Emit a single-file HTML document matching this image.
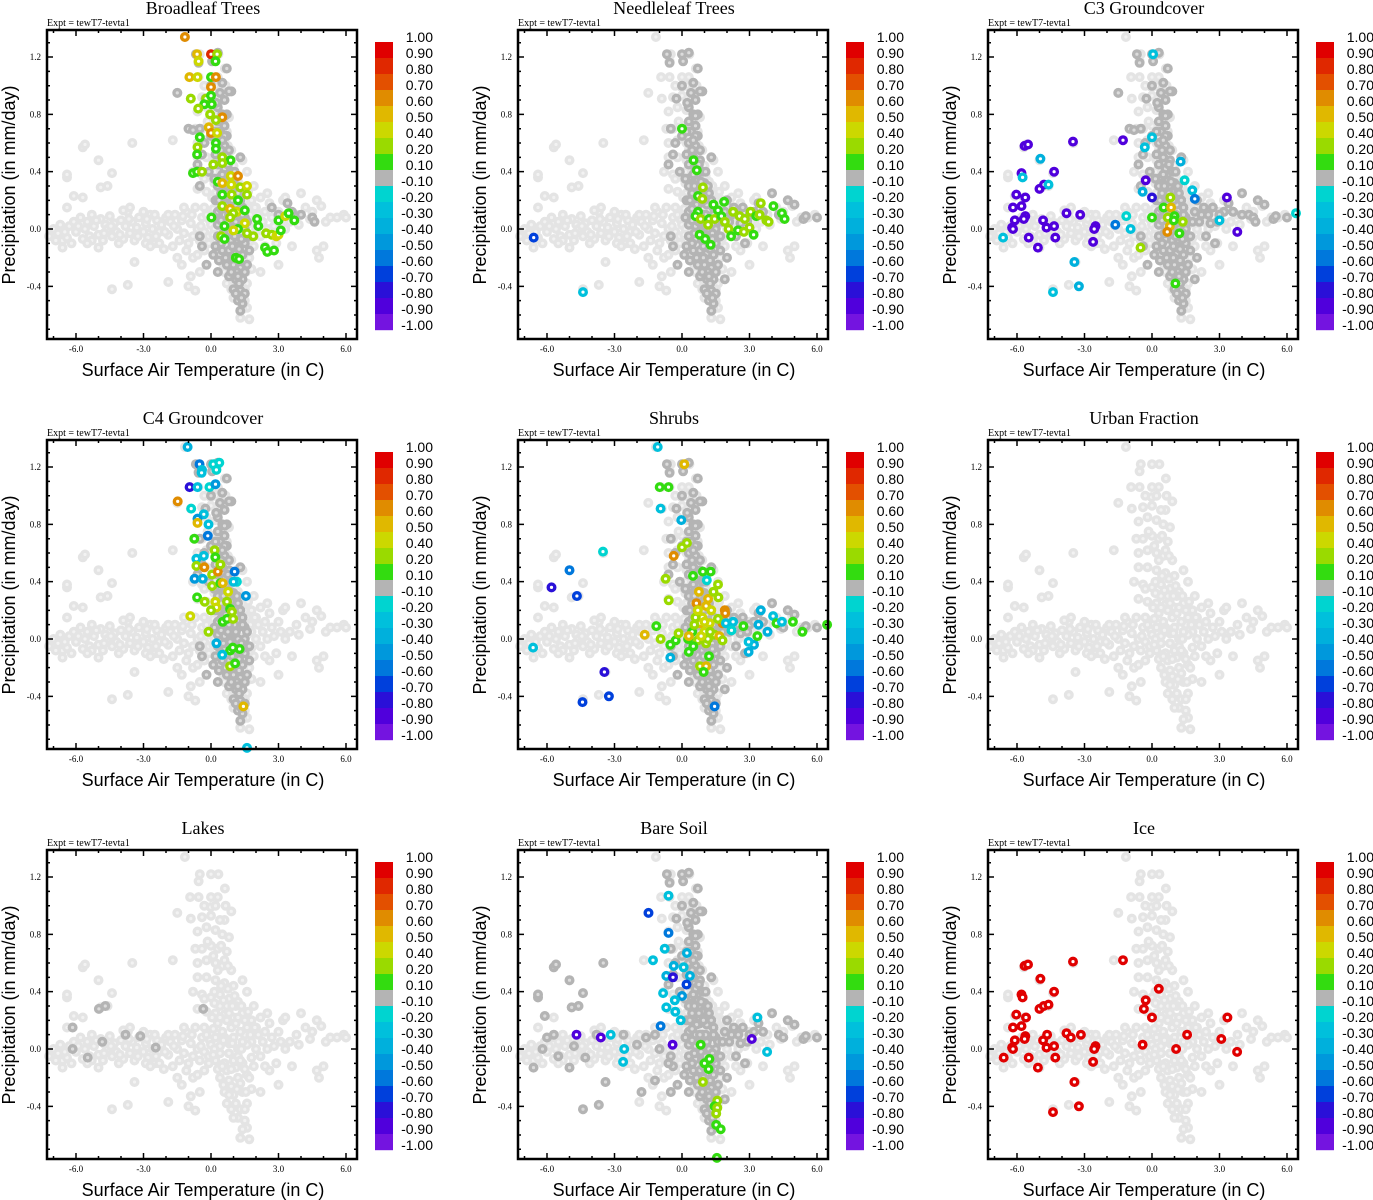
<!DOCTYPE html>
<html><head><meta charset="utf-8"><title>Correlation scatter panels</title>
<style>
html,body{margin:0;padding:0;background:#fff;}
svg{display:block;}
.ttl{font-family:"Liberation Serif",serif;font-size:18px;fill:#000;}
.expt{font-family:"Liberation Serif",serif;font-size:10px;fill:#000;}
.tick{font-family:"Liberation Serif",serif;font-size:9px;fill:#000;}
.axt{font-family:"Liberation Sans",sans-serif;font-size:18px;fill:#000;}
.cbl{font-family:"Liberation Sans",sans-serif;font-size:14px;fill:#000;}
</style></head>
<body>
<svg id="fig" width="1373" height="1200" viewBox="0 0 1373 1200" xmlns="http://www.w3.org/2000/svg"></svg>
<script>
// ---- data ----
const xTicks=[-6,-3,0,3,6];
const xTickLabels=['-6.0','-3.0','0.0','3.0','6.0'];
const yTicks=[-0.4,0,0.4,0.8,1.2];
const yTickLabels=['-0.4','0.0','0.4','0.8','1.2'];
const cbLabels=['1.00','0.90','0.80','0.70','0.60','0.50','0.40','0.20','0.10','-0.10','-0.20','-0.30','-0.40','-0.50','-0.60','-0.70','-0.80','-0.90','-1.00'];
const cbEdges=[1.0,0.9,0.8,0.7,0.6,0.5,0.4,0.2,0.1,-0.1,-0.2,-0.3,-0.4,-0.5,-0.6,-0.7,-0.8,-0.9,-1.0];
const cbColors=['#e00000','#e02800','#e35000','#e08c00','#e0b800','#ccd800','#9ada00','#33dc10','#b4b4b4','#00d4d0','#00c0dc','#00b0dc','#0098dc','#0078dc','#0040dc','#2a10d8','#5000dc','#7414e0'];
const titles=['Broadleaf Trees','Needleleaf Trees','C3 Groundcover','C4 Groundcover','Shrubs','Urban Fraction','Lakes','Bare Soil','Ice'];

// all grid cells (light gray, not significant)
const cloudPts=[[-7.2,-0.05],[-7.0,0.0],[-6.8,-0.03],[-6.6,-0.08],[-6.4,-0.06],[-6.3,0.02],[-6.1,0.05],[-6.0,-0.02],[-5.8,0.08],[-5.7,-0.07],[-5.6,0.0],[-5.5,0.05],[-5.4,-0.05],[-5.3,0.1],[-5.2,0.02],[-5.0,-0.04],[-4.9,0.07],[-4.8,-0.08],[-4.7,0.03],[-4.6,0.0],[-4.5,0.09],[-4.4,-0.05],[-4.3,0.04],[-4.2,-0.02],[-4.0,0.06],[-3.9,-0.07],[-3.8,0.02],[-3.7,0.12],[-3.6,-0.03],[-3.5,0.05],[-3.4,-0.08],[-3.3,0.01],[-3.2,0.08],[-3.0,-0.02],[-2.9,0.04],[-2.8,-0.06],[-2.7,0.1],[-2.6,0.0],[-2.5,-0.1],[-2.4,0.06],[-2.3,-0.02],[-2.2,0.03],[-2.1,-0.14],[-2.0,0.08],[-1.9,-0.04],[-1.8,0.05],[-1.7,-0.12],[-1.6,0.1],[-1.5,0.0],[-1.4,-0.08],[-1.3,0.06],[-1.2,-0.03],[-1.1,0.12],[-1.0,-0.1],[-0.9,0.04],[-0.8,-0.05],[-0.7,0.15],[-0.6,0.0],[-0.5,-0.08],[-0.4,0.08],[-0.3,-0.02],[-0.2,0.1],[-0.1,-0.05],
[-6.4,0.15],[-6.1,0.23],[-5.7,0.22],[-6.4,0.36],[-6.4,0.38],[-5.7,0.57],[-5.6,0.59],[-4.9,0.29],[-4.6,0.3],[-5.0,0.48],[-4.4,0.39],[-3.5,0.6],[-1.7,0.62],[-6.6,-0.13],[-5.0,-0.13],[-3.4,-0.23],[-4.4,-0.42],[-3.7,-0.39],[-1.9,-0.37],[-1.0,-0.4],[-0.7,-0.43],[-1.5,-0.2],[-1.3,-0.25],[-0.9,-0.33],[-0.5,-0.3],[-3.0,0.12],[-3.9,0.13],[-2.5,0.1],[-1.9,0.1],[-1.2,0.15],[-6.9,-0.08],[-6.2,-0.1],[-5.3,-0.08],[-4.1,-0.1],[-2.9,-0.1],[-2.3,-0.1],[-0.8,-0.2],[-0.3,-0.15],
[-6.7,0.03],[-6.5,-0.02],[-5.9,0.02],[-5.5,-0.1],[-5.1,0.06],[-4.75,-0.03],[-4.45,0.02],[-4.05,-0.04],[-3.65,0.07],[-3.25,-0.05],[-2.85,0.07],[-2.45,-0.05],[-2.05,-0.02],[-1.65,0.02],[-1.25,0.09],[-0.85,0.1],[-0.45,0.02],[-0.05,0.06],[-1.1,-0.15],[-0.6,-0.18],[-2.7,-0.12],[-3.6,0.15],
[1.5,0.1],[1.8,0.05],[2.0,0.15],[2.2,-0.05],[2.4,0.12],[2.5,0.0],[2.7,0.08],[2.9,-0.1],[3.0,0.12],[3.2,0.2],[3.3,0.22],[3.5,0.05],[3.8,0.1],[4.0,0.25],[4.2,0.15],[4.5,0.12],[4.7,0.2],[4.9,0.16],[5.1,0.05],[5.3,0.08],[5.6,0.08],[5.9,0.1],[6.0,0.08],[4.7,-0.15],[4.8,-0.2],[5.0,-0.12],[3.6,-0.12],[3.0,-0.25],[2.2,-0.3],[2.6,-0.15],[2.0,0.0],[2.3,0.05],[2.8,0.02],[3.3,0.0],[1.9,-0.12],[2.1,0.1],[2.6,0.18],[3.1,0.05],[3.9,0.03],[4.4,0.07],[2.4,-0.12],
[-1.16,1.34],[-0.5,1.22],[-0.55,1.17],[0.0,1.22],[0.33,1.22],[0.62,1.12],[-0.93,1.06],[-0.55,1.06],[0.0,1.06],[0.3,1.06],[-0.02,0.99],[0.65,1.0],[0.9,0.96],[-1.5,0.95],[-0.9,0.91],[-0.4,0.92],[0.0,0.93],[0.6,0.9],[-0.6,0.82],[-0.2,0.85],[0.2,0.83],[0.5,0.8],[0.8,0.78],[-0.7,0.7],[-0.4,0.7],[0.0,0.72],[0.3,0.7],[0.7,0.68],[-0.6,0.6],[-0.2,0.62],[0.2,0.6],[0.5,0.58],[0.9,0.55],[-0.6,0.5],[-0.2,0.5],[0.2,0.48],[0.6,0.46],[1.0,0.44],[1.4,0.48],[-0.8,0.4],[-0.4,0.38],[0.0,0.36],[0.4,0.38],[0.8,0.35],[1.2,0.33],[-0.6,0.28],[-0.2,0.26],[0.2,0.25],[0.6,0.24],[1.0,0.22],[1.4,0.25],[1.8,0.2],[-0.3,0.15],[0.1,0.14],[0.5,0.12],[0.9,0.15],[1.3,0.12],[0.0,0.03],[0.4,0.02],[0.8,0.04],[1.2,0.0],[1.6,0.03],[0.2,-0.08],[0.6,-0.1],[1.0,-0.08],[1.4,-0.1],[1.8,-0.06],[0.4,-0.2],[0.8,-0.22],[1.2,-0.2],[1.6,-0.18],[0.6,-0.3],[1.0,-0.32],[1.4,-0.3],[1.8,-0.28],[0.9,-0.42],[1.3,-0.42],[1.6,-0.38],[1.2,-0.48],[1.5,-0.5],[1.6,-0.55],[1.3,-0.62],[1.7,-0.63],
[0.3,0.55],[0.6,0.62],[0.4,0.3],[0.7,0.3],[1.1,0.3],[0.3,0.18],[0.7,0.2],[1.1,0.18],[1.6,0.15],[0.2,0.08],[0.6,0.08],[1.0,0.08],[1.4,0.05],[0.4,-0.03],[0.8,-0.03],[1.2,-0.05],[0.3,-0.14],[0.7,-0.15],[1.1,-0.13],[1.5,-0.14],[0.9,-0.26],[1.3,-0.24],[0.7,-0.38],[1.1,-0.38],[1.5,-0.42],
[0.15,0.4],[0.45,0.44],[0.75,0.42],[1.05,0.37],[0.15,0.32],[0.55,0.34],[0.95,0.3],[1.35,0.3],[1.65,0.26],[0.05,0.22],[0.4,0.22],[0.8,0.25],[1.2,0.22],[1.5,0.2],[1.95,0.15],[0.15,0.0],[0.55,0.06],[0.95,0.04],[1.35,0.0],[1.75,0.1],[0.1,-0.04],[0.5,-0.12],[0.9,-0.14],[1.3,-0.08],[1.7,-0.2],[0.55,-0.25],[1.15,-0.28],[1.55,-0.3],[0.8,-0.32],[1.0,-0.48],[1.4,-0.56],[-0.1,-0.1],[-0.3,0.35],[0.1,0.65],[0.4,0.9],[0.2,1.0],[-0.3,1.0],[0.45,0.72],[0.75,0.58],[-0.15,0.75],[1.6,0.4],[1.9,0.3],[2.2,0.22],[2.5,0.25]];

// |r|<0.1 cells shown dark gray
const darkCore=[[0.0,1.0],[0.7,1.12],[0.9,0.96],[0.6,0.9],[0.3,0.85],[0.5,0.8],[0.7,0.8],[0.3,0.75],[0.6,0.72],[0.4,0.68],[0.7,0.65],[-0.3,0.6],[0.3,0.6],[0.6,0.58],[0.8,0.55],[-0.4,0.52],[0.2,0.52],[0.5,0.5],[0.8,0.48],[1.3,0.5],[-0.6,0.45],[0.3,0.45],[0.6,0.42],[0.9,0.4],[-0.1,0.4],[0.4,0.36],[0.7,0.34],[1.0,0.32],[0.3,0.3],[0.6,0.27],[0.9,0.26],[1.2,0.25],[0.2,0.2],[0.5,0.2],[0.8,0.18],[1.1,0.17],[1.4,0.15],[0.3,0.12],[0.6,0.1],[0.9,0.1],[1.2,0.08],[1.5,0.08],[0.3,0.03],[0.6,0.02],[0.9,0.0],[1.2,0.0],[1.5,0.0],[-0.5,-0.05],[0.3,-0.05],[0.6,-0.07],[0.9,-0.08],[1.2,-0.08],[1.5,-0.1],[0.5,-0.15],[0.8,-0.15],[1.1,-0.17],[1.4,-0.18],[1.7,-0.15],[0.7,-0.25],[1.0,-0.25],[1.3,-0.27],[1.6,-0.25],[0.8,-0.33],[1.1,-0.35],[1.4,-0.35],[1.0,-0.42],[1.3,-0.43],[1.5,-0.45],[1.2,-0.5],[1.4,-0.52],[-0.4,-0.12],[0.1,-0.18],[-0.2,-0.25],[0.3,-0.3],
[-0.67,1.22],[0.0,1.22],[0.3,1.23],[-0.55,1.16],[0.05,1.17],[0.5,1.02],[0.8,0.96],[-0.25,0.91],[0.23,0.88],[0.6,0.79],[-0.5,0.7],[0.0,0.65],[0.6,0.65],[0.45,0.55],[0.75,0.45],[1.05,0.4],[0.45,0.25],[0.75,0.25],[1.05,0.1],[0.45,0.06],[0.75,0.05],[1.35,-0.03],[0.45,-0.1],[0.95,-0.12],[1.25,-0.14],[0.85,-0.2],[1.15,-0.3],[1.25,-0.38],
[0.15,0.35],[0.5,0.38],[0.85,0.33],[1.15,0.3],[0.35,0.2],[0.65,0.17],[0.95,0.2],[1.3,0.2],[0.15,0.08],[0.45,0.14],[0.8,0.1],[1.1,0.05],[1.4,0.1],[0.2,-0.12],[0.55,-0.03],[0.85,-0.02],[1.05,-0.05],[1.35,-0.07],[0.35,-0.22],[0.65,-0.2],[0.95,-0.2],[1.25,-0.22],[0.9,-0.3],[1.2,-0.33],[1.5,-0.3],[1.1,-0.45],[1.35,-0.48],[1.3,-0.57],[0.5,0.62],[0.2,0.68],[0.4,0.95],[0.55,0.3],[1.6,0.05],[1.7,-0.05]];
const darkRight=[[2.0,0.2],[2.3,0.15],[2.5,0.1],[2.7,0.15],[3.0,0.1],[3.2,0.12],[3.4,0.18],[3.6,0.12],[4.0,0.25],[4.3,0.1],[4.5,0.08],[4.7,0.2],[5.0,0.17],[5.4,0.07],[5.5,0.09],[6.0,0.08],[2.4,-0.05],[2.8,-0.1],[2.0,-0.2],[1.9,-0.35],[1.8,0.05],[2.1,0.05],[2.2,0.1],[2.6,0.04],[2.9,0.05],[1.9,0.12]];
const darkLeft=[[-6.1,0.23],[-6.4,0.36],[-6.4,0.38],[-5.7,0.57],[-5.6,0.59],[-4.9,0.29],[-4.6,0.3],[-5.0,0.48],[-4.4,0.39],[-3.5,0.6],[-6.6,-0.13],[-5.5,-0.05],[-5.0,-0.13],[-3.4,-0.23],[-4.4,-0.42],[-3.7,-0.39],[-4.3,-0.06],[-6.2,0.0],[-6.0,0.08],[-5.7,0.1],[-4.8,0.02],[-3.8,0.1],[-2.6,0.1],[-2.0,0.03],[-1.6,0.08],[-1.2,0.1],[-1.8,-0.3],[-1.0,0.0],[-0.6,-0.1],[-0.5,-0.3],[-1.2,-0.22]];
const darkLakes=[[-6.15,0.15],[-6.15,0.0],[-5.48,-0.06],[-4.98,0.28],[-4.7,0.3],[-4.83,0.05],[-3.8,0.1],[-3.14,0.09],[-2.46,0.01],[-0.34,0.28]];
const darkExtra1=[[2.7,0.15],[3.0,0.1],[3.4,0.18],[3.6,0.12],[4.0,0.1],[4.5,0.08],[4.6,0.05],[-1.0,0.7],[-0.8,0.69],[-0.5,0.3],[-1.5,0.95]];

// correlation-coloured cells [x, y, r]
const broadleaf=[[-1.16,1.34,0.65],[0.0,1.22,0.85],[0.27,1.22,0.3],[-0.62,1.22,0.55],[-0.55,1.17,0.45],[0.2,1.17,0.15],[-0.96,1.06,0.55],[-0.6,1.06,0.45],[0.0,1.06,0.15],[0.22,1.06,0.65],[0.0,0.99,0.65],[-0.9,0.91,0.3],[-0.22,0.91,0.3],[0.0,0.93,0.15],[-0.3,0.87,0.15],[-0.57,0.84,0.3],[0.03,0.87,0.15],[-0.04,0.8,0.3],[0.5,0.78,0.65],[0.22,0.76,0.3],[-0.1,0.71,0.55],[0.0,0.67,0.65],[0.27,0.67,0.45],[-0.5,0.64,0.15],[0.22,0.6,0.15],[-0.6,0.57,0.3],[0.22,0.56,0.15],[-0.62,0.52,0.15],[0.5,0.5,0.3],[0.1,0.45,0.3],[0.87,0.48,0.15],[-0.8,0.39,0.15],[-0.62,0.4,0.15],[-0.4,0.4,0.3],[0.5,0.46,0.3],[0.88,0.37,0.45],[1.2,0.37,0.65],[0.3,0.33,0.15],[0.5,0.32,0.55],[0.9,0.31,0.45],[1.3,0.29,0.3],[1.6,0.3,0.45],[0.5,0.24,0.15],[0.92,0.24,0.3],[1.2,0.2,0.15],[1.6,0.24,0.3],[0.5,0.16,0.3],[0.85,0.14,0.55],[1.15,0.12,0.45],[0.99,0.11,0.3],[1.5,0.13,0.15],[0.02,0.08,0.15],[0.85,0.08,0.3],[1.5,0.04,0.45],[2.05,0.07,0.15],[3.0,0.06,0.15],[3.3,0.09,0.45],[3.45,0.11,0.15],[3.7,0.06,0.15],[0.6,0.02,0.15],[1.2,0.0,0.15],[1.6,-0.03,0.3],[1.88,-0.05,0.3],[2.1,0.02,0.15],[2.45,-0.03,0.3],[2.7,-0.04,0.3],[2.9,-0.05,0.45],[3.0,-0.04,0.45],[3.1,-0.01,0.15],[0.45,-0.05,0.3],[0.6,-0.07,0.15],[1.1,-0.2,0.15],[1.25,-0.21,0.15],[2.4,-0.13,0.15],[2.5,-0.16,0.15],[2.8,-0.15,0.15],[1.0,-0.01,0.45]];
const needleleaf=[[0.0,0.7,0.15],[0.51,0.48,0.15],[0.66,0.41,0.15],[0.93,0.29,0.3],[0.71,0.23,0.15],[0.9,0.21,0.3],[1.4,0.17,0.15],[1.87,0.19,0.15],[1.6,0.13,0.15],[0.71,0.12,0.15],[0.6,0.09,0.15],[0.83,0.07,0.3],[1.2,0.07,0.15],[1.45,0.07,0.3],[1.75,0.09,0.15],[1.9,0.05,0.3],[2.27,0.12,0.3],[2.56,0.09,0.3],[2.79,0.07,0.3],[3.05,0.12,0.3],[3.5,0.18,0.3],[4.06,0.16,0.15],[4.44,0.11,0.15],[4.56,0.07,0.15],[3.3,0.09,0.15],[3.45,0.1,0.3],[3.75,0.06,0.3],[3.85,0.05,0.3],[1.16,0.03,0.3],[2.07,0.0,0.3],[2.49,-0.01,0.15],[2.75,-0.02,0.3],[3.0,0.01,0.3],[3.18,-0.04,0.15],[0.78,-0.04,0.15],[1.03,-0.07,0.15],[1.27,-0.11,0.15],[2.18,-0.05,0.15],[-6.59,-0.06,-0.65],[-4.4,-0.44,-0.25]];
const c3ground=[[-3.51,0.61,-0.85],[-1.29,0.62,-0.85],[-5.66,0.58,-0.85],[-5.51,0.59,-0.85],[-5.8,0.39,-0.85],[-4.35,0.4,-0.85],[-5.0,0.28,-0.85],[-4.8,0.31,-0.85],[-6.03,0.24,-0.85],[-5.63,0.22,-0.85],[-6.18,0.15,-0.85],[-5.8,0.16,-0.85],[-5.63,0.09,-0.85],[-6.1,0.06,-0.85],[-6.22,0.01,-0.85],[-6.18,0.0,-0.85],[-5.7,0.07,-0.85],[-4.84,0.06,-0.85],[-4.69,0.01,-0.85],[-4.35,0.02,-0.85],[-3.8,0.11,-0.85],[-3.19,0.1,-0.85],[-2.51,0.02,-0.85],[-2.57,0.0,-0.85],[-2.62,-0.09,-0.85],[-5.48,-0.06,-0.85],[-5.07,-0.13,-0.85],[-4.3,-0.06,-0.85],[-0.28,0.34,-0.85],[3.33,0.22,-0.85],[3.79,-0.02,-0.85],[0.0,0.22,-0.75],
[-4.96,0.49,-0.35],[-5.75,0.36,-0.25],[-4.6,0.31,-0.25],[-6.62,-0.06,-0.25],[-3.45,-0.23,-0.35],[-3.25,-0.4,-0.35],[-4.4,-0.44,-0.25],[-0.95,0.0,-0.25],[-1.14,0.09,-0.15],[-1.63,0.03,-0.55],[-0.32,0.57,-0.25],[0.0,0.64,-0.25],[1.27,0.47,-0.35],[1.45,0.34,-0.15],[1.79,0.27,-0.25],[-0.42,0.26,-0.35],[6.4,0.11,-0.15],[3.0,0.06,-0.25],[0.05,1.22,-0.25],[1.9,0.21,-0.55],
[0.82,0.22,0.3],[0.52,0.15,0.15],[0.85,0.15,0.55],[0.7,0.08,0.3],[1.0,0.09,0.15],[1.37,0.05,0.3],[0.79,0.02,0.55],[0.68,-0.02,0.65],[1.22,-0.03,0.15],[0.0,0.08,0.15],[-0.51,-0.13,0.3],[1.04,-0.38,0.15],[0.97,0.06,0.15]];
const c4ground=[[-1.04,1.34,-0.35],[-0.51,1.22,-0.55],[-0.4,1.18,-0.25],[-0.42,1.16,-0.25],[0.1,1.22,-0.15],[0.37,1.23,-0.15],[0.24,1.18,-0.15],[-0.95,1.06,-0.75],[-0.6,1.06,-0.25],[-0.07,1.06,-0.15],[0.2,1.08,-0.45],[-1.48,0.96,0.65],[-0.88,0.91,-0.15],[-0.32,0.87,-0.25],[-0.6,0.84,-0.45],[-0.6,0.81,0.55],[-0.11,0.8,-0.25],[-0.74,0.7,0.15],[-0.14,0.72,-0.55],[0.16,0.62,0.3],[-0.65,0.56,-0.25],[-0.32,0.58,-0.25],[0.19,0.57,0.15],[-0.65,0.51,0.3],[-0.3,0.5,0.65],[0.05,0.45,0.3],[0.3,0.47,0.65],[0.42,0.52,0.3],[1.05,0.47,-0.55],[-0.73,0.42,-0.45],[-0.37,0.42,-0.35],[0.05,0.37,0.3],[0.42,0.39,0.15],[0.52,0.39,0.55],[0.76,0.33,0.45],[1.15,0.4,-0.15],[1.55,0.3,-0.45],[-0.62,0.29,0.15],[-0.28,0.26,0.3],[0.19,0.26,0.45],[0.24,0.22,0.45],[0.71,0.26,0.3],[0.85,0.21,0.15],[0.93,0.19,0.3],[0.0,0.2,0.3],[-0.92,0.16,0.45],[0.52,0.12,0.15],[0.71,0.14,0.15],[0.98,0.14,0.3],[-0.11,0.05,0.3],[0.85,-0.08,0.15],[0.97,-0.06,0.15],[1.27,-0.07,0.15],[0.85,-0.19,0.3],[1.07,-0.17,0.15],[1.44,-0.47,0.55],[1.6,-0.76,-0.25],[0.24,-0.03,-0.35],[0.5,-0.11,-0.25],[1.0,0.4,-0.25]];
const shrubs=[[-1.08,1.34,-0.25],[0.1,1.22,0.55],[-0.99,1.06,0.15],[-0.6,1.06,0.15],[-0.95,0.91,-0.25],[-0.03,0.83,-0.35],[0.0,0.64,0.3],[0.22,0.67,0.3],[-0.37,0.58,0.65],[-3.51,0.61,-0.15],[-5.0,0.48,-0.55],[-5.8,0.36,-0.75],[-4.67,0.3,-0.65],[-0.73,0.42,0.3],[0.49,0.44,0.15],[0.93,0.47,0.15],[1.27,0.47,0.15],[-0.59,0.27,0.3],[0.64,0.25,0.65],[0.75,0.33,0.55],[1.16,0.28,0.55],[1.4,0.33,0.3],[1.62,0.29,0.3],[1.9,0.2,0.65],[1.92,0.18,0.65],[1.8,0.11,0.65],[0.8,0.11,0.55],[1.0,0.05,0.45],[1.23,0.11,0.45],[1.45,0.03,0.3],[1.6,0.14,0.3],[1.07,0.23,0.55],[0.45,0.05,0.15],[0.27,0.0,0.15],[0.3,0.02,0.55],[0.7,-0.01,0.3],[1.07,-0.03,0.3],[1.66,0.02,0.55],[1.8,-0.01,0.3],[-0.28,-0.01,0.15],[-0.52,-0.04,0.15],[-0.15,0.04,0.3],[-0.95,0.0,0.3],[-1.14,0.09,0.15],[-1.66,0.03,0.55],[-6.62,-0.06,-0.25],[-3.45,-0.23,-0.75],[-3.25,-0.4,-0.65],[-4.42,-0.44,-0.65],[-0.52,-0.13,-0.35],[0.3,-0.09,0.15],[0.8,-0.19,0.3],[1.07,-0.19,0.55],[1.2,-0.12,0.15],[0.96,-0.23,0.15],[1.45,-0.47,-0.55],[2.27,0.12,-0.25],[2.73,0.09,0.15],[2.96,-0.09,-0.35],[3.2,-0.04,-0.35],[3.35,0.02,0.15],[3.5,0.2,-0.35],[4.05,0.16,-0.25],[4.2,0.11,0.15],[4.44,0.12,-0.25],[4.93,0.12,0.15],[5.35,0.05,0.15],[6.45,0.1,0.15],[3.8,0.05,-0.35],[3.4,0.1,-0.35],[1.95,0.11,-0.25],[2.2,0.06,-0.15],[2.96,-0.02,-0.25],[1.1,0.41,-0.15],[1.6,0.38,0.3],[0.9,0.15,0.45],[1.3,0.2,0.45],[0.6,0.15,0.3],[1.15,0.0,0.3],[0.5,-0.05,0.15],[0.7,0.2,0.45],[1.0,0.12,0.5],[0.85,0.02,0.45],[1.25,0.05,0.3],[0.55,0.1,0.3]];
const baresoil=[[-0.6,1.07,-0.25],[-1.49,0.95,-0.65],[-0.6,0.81,-0.55],[-0.77,0.7,-0.25],[-1.29,0.62,-0.25],[-0.37,0.58,-0.35],[-0.7,0.51,-0.35],[-0.4,0.5,-0.75],[0.22,0.67,-0.35],[0.07,0.57,-0.25],[0.35,0.51,-0.35],[0.2,0.45,-0.65],[-0.84,0.39,-0.25],[0.0,0.37,-0.45],[-0.32,0.34,-0.25],[-0.7,0.29,-0.25],[-0.3,0.26,-0.25],[-0.06,0.2,-0.25],[-0.95,0.16,-0.55],[-4.69,0.1,-0.85],[-3.61,0.08,-0.85],[-3.17,0.1,-0.25],[-2.57,0.0,-0.25],[-2.62,-0.09,-0.25],[-0.42,0.03,-0.85],[3.35,0.22,-0.25],[3.1,0.07,-0.85],[3.78,-0.02,-0.25],[0.83,0.03,0.15],[1.0,-0.1,0.15],[1.22,-0.07,0.15],[1.18,-0.14,0.15],[0.93,-0.23,0.3],[1.57,-0.36,0.3],[1.45,-0.4,0.15],[1.57,-0.41,0.3],[1.52,-0.45,0.3],[1.52,-0.53,0.15],[1.72,-0.56,0.15],[1.55,-0.76,0.15]];
const ice=[[-3.51,0.61,0.95],[-1.29,0.62,0.95],[-5.66,0.58,0.95],[-5.51,0.59,0.95],[-4.96,0.49,0.95],[-5.8,0.38,0.95],[-5.75,0.36,0.95],[-4.35,0.4,0.95],[-5.0,0.28,0.95],[-4.81,0.3,0.95],[-4.6,0.31,0.95],[-6.03,0.24,0.95],[-5.6,0.22,0.95],[-6.18,0.15,0.95],[-5.8,0.16,0.95],[-5.63,0.09,0.95],[-5.66,0.07,0.95],[-6.1,0.06,0.95],[-6.22,0.01,0.95],[-6.18,0.0,0.95],[-4.84,0.06,0.95],[-4.66,0.1,0.95],[-4.69,0.01,0.95],[-4.35,0.02,0.95],[-3.8,0.11,0.95],[-3.61,0.08,0.95],[-3.16,0.1,0.95],[-2.51,0.02,0.95],[-2.57,0.0,0.95],[-2.62,-0.09,0.95],[-6.59,-0.06,0.95],[-5.48,-0.06,0.95],[-5.07,-0.13,0.95],[-4.3,-0.06,0.95],[-3.45,-0.23,0.95],[-3.25,-0.4,0.95],[-4.4,-0.44,0.95],[0.3,0.42,0.95],[-0.28,0.34,0.95],[-0.36,0.28,0.95],[0.0,0.22,0.95],[-0.42,0.03,0.95],[1.56,0.1,0.95],[1.07,0.0,0.95],[3.08,0.07,0.95],[3.35,0.22,0.95],[3.78,-0.02,0.95]];
const empty=[];

const panelDark=[[darkCore,darkExtra1],[darkCore,darkRight],[darkCore,darkRight,darkExtra1],[darkCore],[darkCore,darkRight],[],[darkLakes],[darkCore,darkRight,darkLeft],[]];
const panelColored=[broadleaf,needleleaf,c3ground,c4ground,shrubs,empty,empty,baresoil,ice];
const slugs=['broadleaf-trees','needleleaf-trees','c3-groundcover','c4-groundcover','shrubs','urban-fraction','lakes','bare-soil','ice'];

// ---- drawing ----
const NS='http://www.w3.org/2000/svg';
const fig=document.getElementById('fig');
function mk(tag,attrs,parent){const e=document.createElementNS(NS,tag);for(const k in attrs)e.setAttribute(k,attrs[k]);parent.appendChild(e);return e;}
const PL=47,PT=30,PR=357,PB=339,X0=211,XS=22.5,Y0=229,YS=143.3;
function sx(v){return X0+v*XS;}
function sy(v){return Y0-v*YS;}
function colorFor(r){for(let i=0;i<cbColors.length;i++){if(r<=cbEdges[i]&&r>cbEdges[i+1])return cbColors[i];}return cbColors[cbColors.length-1];}

function drawPoint(g,x,y,col,name,hole){
  const c=mk('circle',{cx:sx(x).toFixed(1),cy:sy(y).toFixed(1),r:3.3,fill:hole,stroke:col,'stroke-width':3.4},g);
  
  
}

for(let p=0;p<9;p++){
  const ox=[0,471,941][p%3], oy=[0,410,820][Math.floor(p/3)];
  const g=mk('g',{transform:`translate(${ox},${oy})`},fig);
  
  

  const t=mk('text',{x:203,y:14,'text-anchor':'middle',class:'ttl'},g);t.textContent=titles[p];
  
  
  const ex=mk('text',{x:47,y:26,class:'expt'},g);ex.textContent='Expt = tewT7-tevta1';
  
  

  const pts=mk('g',{},g);
  
  
  cloudPts.forEach(q=>drawPoint(pts,q[0],q[1],'#e4e4e4','point-insignificant','#f2f2f2'));
  panelDark[p].forEach(arr=>arr.forEach(q=>drawPoint(pts,q[0],q[1],'#b4b4b4','point-near-zero','#dcdcdc')));
  panelColored[p].forEach(q=>drawPoint(pts,q[0],q[1],colorFor(q[2]),'point-correlation','#fff'));

  const fr=mk('rect',{x:PL,y:PT,width:PR-PL,height:PB-PT,fill:'none',stroke:'#000','stroke-width':2.5},g);
  
  
  let d='';
  for(let v=-7;v<=6;v++){const X=sx(v);const L=(v%3===0)?6:3;d+=`M${X},${PB}v${-L}M${X},${PT}v${L}`;}
  for(let k=-7;k<=13;k++){const v=k/10;const Y=sy(v);const L=(k%4===0)?6:3;d+=`M${PL},${Y}h${L}M${PR},${Y}h${-L}`;}
  const tk=mk('path',{d:d,stroke:'#000','stroke-width':1.5,fill:'none'},g);
  
  
  xTicks.forEach((v,i)=>{const tt=mk('text',{x:sx(v),y:352,'text-anchor':'middle',class:'tick'},g);tt.textContent=xTickLabels[i];
    
    });
  yTicks.forEach((v,i)=>{const tt=mk('text',{x:41,y:sy(v)+3,'text-anchor':'end',class:'tick'},g);tt.textContent=yTickLabels[i];
    
    });
  const xt=mk('text',{x:203,y:376,'text-anchor':'middle',class:'axt'},g);xt.textContent='Surface Air Temperature (in C)';
  
  
  const yt=mk('text',{x:0,y:0,'text-anchor':'middle',class:'axt',transform:'translate(15,185) rotate(-90)'},g);yt.textContent='Precipitation (in mm/day)';
  
  

  const cb=mk('g',{},g);
  
  
  cbColors.forEach((c,i)=>{const r=mk('rect',{x:375,y:42+i*16,width:18,height:16.2,fill:c},cb);
    
    });
  cbLabels.forEach((s,i)=>{const tt=mk('text',{x:433,y:42+i*16,'text-anchor':'end',class:'cbl'},cb);tt.textContent=s;
    
    });
}
</script>
</body></html>
